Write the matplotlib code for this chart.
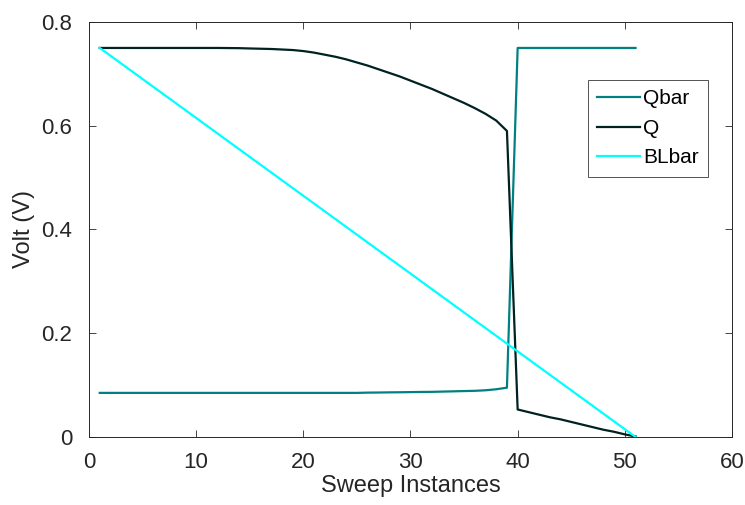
import numpy as np
import matplotlib
matplotlib.use("Agg")
import matplotlib.pyplot as plt

# sweep index 1..51
sweep = np.arange(1, 52)

qbar = [0.085, 0.085, 0.085, 0.085, 0.085, 0.085, 0.085, 0.085, 0.085, 0.085,
        0.085, 0.085, 0.085, 0.085, 0.085, 0.085, 0.085, 0.085, 0.085, 0.085,
        0.085, 0.085, 0.085, 0.085, 0.085, 0.0855, 0.0857, 0.086, 0.0862, 0.0865,
        0.0868, 0.087, 0.0875, 0.088, 0.0885, 0.089, 0.090, 0.092, 0.095, 0.750,
        0.750, 0.750, 0.750, 0.750, 0.750, 0.750, 0.750, 0.750, 0.750, 0.750, 0.750]

q = [0.750, 0.750, 0.750, 0.750, 0.750, 0.750, 0.750, 0.750, 0.750, 0.750,
     0.750, 0.750, 0.7498, 0.7496, 0.749, 0.7485, 0.748, 0.747, 0.746, 0.744,
     0.741, 0.737, 0.733, 0.728, 0.722, 0.716, 0.709, 0.702, 0.695, 0.687,
     0.679, 0.671, 0.662, 0.653, 0.644, 0.634, 0.623, 0.610, 0.590, 0.053,
     0.048, 0.043, 0.038, 0.034, 0.029, 0.024, 0.019, 0.014, 0.010, 0.005, 0.001]

blbar = [0.750, 0.735, 0.720, 0.705, 0.690, 0.675, 0.660, 0.645, 0.630, 0.615,
         0.600, 0.585, 0.570, 0.555, 0.540, 0.525, 0.510, 0.495, 0.480, 0.465,
         0.450, 0.435, 0.420, 0.405, 0.390, 0.375, 0.360, 0.345, 0.330, 0.315,
         0.300, 0.285, 0.270, 0.255, 0.240, 0.225, 0.210, 0.195, 0.180, 0.165,
         0.150, 0.135, 0.120, 0.105, 0.090, 0.075, 0.060, 0.045, 0.030, 0.015, 0.000]

plt.rcParams['font.family'] = ['Liberation Sans', 'DejaVu Sans']

fig = plt.figure(figsize=(7.45, 5.05), dpi=100)
ax = fig.add_axes([0.1195, 0.1347, 0.863, 0.8217])

ax.plot(sweep, qbar, color='#008080', lw=1.6, label='Qbar')
ax.plot(sweep, q, color='#002222', lw=1.6, label='Q')
ax.plot(sweep, blbar, color='#00ffff', lw=1.6, label='BLbar')

ax.set_xlim(0, 60)
ax.set_ylim(0, 0.8)
ax.set_xticks([0, 10, 20, 30, 40, 50, 60])
ax.set_yticks([0, 0.2, 0.4, 0.6, 0.8])
ax.set_yticklabels(['0', '0.2', '0.4', '0.6', '0.8'])
ax.tick_params(direction='in', top=True, right=True, length=5, width=0.6,
               color='#262626', labelsize=16, labelcolor='#262626')
ax.tick_params(axis='x', pad=11)
ax.tick_params(axis='y', pad=12)
for s in ax.spines.values():
    s.set_color('#262626')
    s.set_linewidth(0.7)

ax.set_xlabel('Sweep Instances', fontsize=17, color='#262626', labelpad=1)
ax.set_ylabel('Volt (V)', fontsize=17, color='#262626', labelpad=5)

leg = ax.legend(loc='upper right', bbox_to_anchor=(0.963, 0.860), fontsize=15,
                frameon=True, fancybox=False, handlelength=2.05, handletextpad=0.15,
                borderpad=0.45, labelspacing=0.5, borderaxespad=0)
leg.get_frame().set_edgecolor('#262626')
leg.get_frame().set_linewidth(0.7)

fig.savefig('out.png', dpi=100)
